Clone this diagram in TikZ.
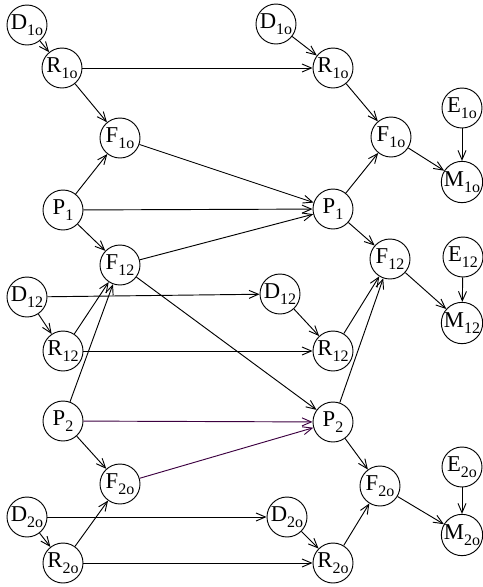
\documentclass[tikz,border=0pt]{standalone}
\usepackage{fontspec}
\setmainfont{Liberation Serif}
\usetikzlibrary{arrows.meta}
\definecolor{purp}{HTML}{3C0040}
\tikzset{
  var/.style={circle,draw,line width=0.7pt,minimum size=30pt,inner sep=0pt,font=\fontsize{17}{17}\selectfont},
  arr/.style={line width=0.7pt,-{Straight Barb[length=7pt,width=6pt]}},
  pl/.style={arr,draw=purp}
}
\newcommand{\lab}[2]{#1\raisebox{-4pt}{\fontsize{12}{12}\selectfont #2}}
\begin{document}
\begin{tikzpicture}[x=0.75pt,y=-0.75pt]
\useasboundingbox (0,0) rectangle (483,587);
% left column
\node[var] (lD1) at (27,25) {\lab{D}{1o}};
\node[var] (lR1) at (62,68) {\lab{R}{1o}};
\node[var] (lF1) at (120,138) {\lab{F}{1o}};
\node[var] (lP1) at (63,210) {\lab{P}{1}};
\node[var] (lF12) at (120,265) {\lab{F}{12}};
\node[var] (lD12) at (27,297) {\lab{D}{12}};
\node[var] (lR12) at (63,351) {\lab{R}{12}};
\node[var] (lP2) at (63,421) {\lab{P}{2}};
\node[var] (lF2) at (120,484) {\lab{F}{2o}};
\node[var] (lD2) at (27,517) {\lab{D}{2o}};
\node[var] (lR2) at (63,563) {\lab{R}{2o}};
% right column
\node[var] (rD1) at (276,24) {\lab{D}{1o}};
\node[var] (rR1) at (333,68) {\lab{R}{1o}};
\node[var] (rF1) at (391,137) {\lab{F}{1o}};
\node[var] (E1) at (462,108) {\lab{E}{1o}};
\node[var] (M1) at (462,182) {\lab{M}{1o}};
\node[var] (rP1) at (333,209) {\lab{P}{1}};
\node[var] (rF12) at (390,259) {\lab{F}{12}};
\node[var] (E12) at (463,257) {\lab{E}{12}};
\node[var] (M12) at (462,323) {\lab{M}{12}};
\node[var] (rD12) at (280,294) {\lab{D}{12}};
\node[var] (rR12) at (333,351) {\lab{R}{12}};
\node[var] (rP2) at (333,422) {\lab{P}{2}};
\node[var] (rF2) at (380,486) {\lab{F}{2o}};
\node[var] (E2) at (462,467) {\lab{E}{2o}};
\node[var] (M2) at (462,535) {\lab{M}{2o}};
\node[var] (rD2) at (287,517) {\lab{D}{2o}};
\node[var] (rR2) at (333,563) {\lab{R}{2o}};
% left edges
\draw[arr] (lD1) -- (lR1);
\draw[arr] (lR1) -- (lF1);
\draw[arr] (lR1) -- (rR1);
\draw[arr] (lF1) -- (rP1);
\draw[arr] (lP1) -- (lF1);
\draw[arr] (lP1) -- (lF12);
\draw[arr] (lP1) -- (rP1);
\draw[arr] (lF12) -- (rP1);
\draw[arr] (lF12) -- (rP2);
\draw[arr] (lD12) -- (rD12);
\draw[arr] (lD12) -- (lR12);
\draw[arr] (lR12) -- (lF12);
\draw[arr] (lR12) -- (rR12);
\draw[arr] (lP2) -- (lF12);
\draw[pl] (lP2) -- (rP2);
\draw[arr] (lP2) -- (lF2);
\draw[pl] (lF2) -- (rP2);
\draw[arr] (lD2) -- (rD2);
\draw[arr] (lD2) -- (lR2);
\draw[arr] (lR2) -- (lF2);
\draw[arr] (lR2) -- (rR2);
% right edges
\draw[arr] (rD1) -- (rR1);
\draw[arr] (rR1) -- (rF1);
\draw[arr] (rF1) -- (M1);
\draw[arr] (E1) -- (M1);
\draw[arr] (rP1) -- (rF1);
\draw[arr] (rP1) -- (rF12);
\draw[arr] (rF12) -- (M12);
\draw[arr] (E12) -- (M12);
\draw[arr] (rD12) -- (rR12);
\draw[arr] (rR12) -- (rF12);
\draw[arr] (rP2) -- (rF12);
\draw[arr] (rP2) -- (rF2);
\draw[arr] (rF2) -- (M2);
\draw[arr] (E2) -- (M2);
\draw[arr] (rD2) -- (rR2);
\draw[arr] (rR2) -- (rF2);
\end{tikzpicture}
\end{document}
